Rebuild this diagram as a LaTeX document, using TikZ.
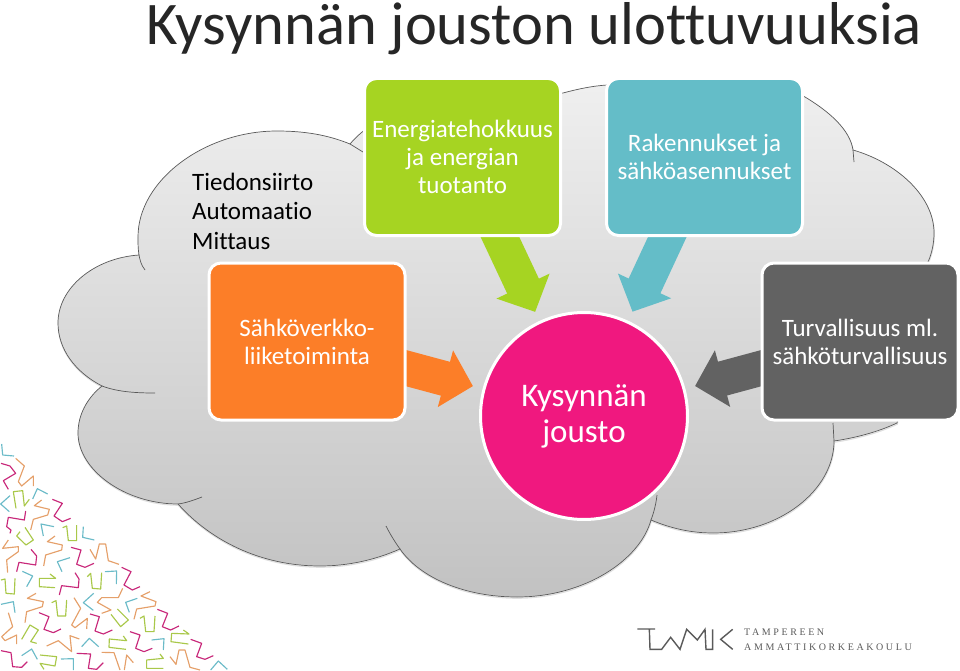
\documentclass[tikz,border=0pt]{standalone}
\usepackage{fontspec}
\setmainfont{Carlito}[Ligatures=NoCommon]
\newfontfamily\tamkfont[LetterSpace=26]{Liberation Serif}
\usetikzlibrary{arrows.meta}
\definecolor{energiagreen}{HTML}{A6D422}
\definecolor{rakennusblue}{HTML}{64BDC8}
\definecolor{liikeorange}{HTML}{FC7E28}
\definecolor{turvagrey}{HTML}{626262}
\definecolor{joustopink}{HTML}{F0187F}
\definecolor{stickblue}{HTML}{6BBBC8}
\definecolor{stickorange}{HTML}{E5A06A}
\definecolor{stickpink}{HTML}{C8287A}
\definecolor{stickgreen}{HTML}{A9C84A}
\definecolor{logogrey}{HTML}{5A5A5A}
\pgfdeclarelayer{back}
\pgfsetlayers{back,main}
\newcommand{\cloudoutline}{(102,386) .. controls (75,372) and (58,349) .. (58,323)
	.. controls (58,288) and (94,258) .. (139,255)
	.. controls (138,249) and (138,243) .. (138,237)
	.. controls (138,180) and (205,131) .. (277,131)
	.. controls (305,131) and (328,135) .. (350,144)
	.. controls (368,122) and (400,108) .. (440,104)
	.. controls (490,100) and (530,99) .. (563,93)
	.. controls (578,89) and (592,86) .. (607,85)
	.. controls (650,78) and (770,78) .. (805,97)
	.. controls (830,112) and (850,130) .. (853,150)
	.. controls (895,162) and (934,195) .. (934,233)
	.. controls (934,243) and (932,253) .. (928,262)
	-- (897,423)
	.. controls (878,432) and (855,438) .. (834,441)
	.. controls (834,490) and (780,533) .. (713,533)
	.. controls (690,533) and (670,528) .. (651,520)
	.. controls (640,560) and (585,597) .. (517,597)
	.. controls (465,597) and (420,578) .. (400,549)
	.. controls (375,560) and (348,566) .. (320,566)
	.. controls (260,566) and (210,540) .. (178,504)
	.. controls (125,504) and (78,470) .. (78,433)
	.. controls (78,415) and (87,398) .. (102,386) -- cycle}
\tikzset{
	kortti/.style={draw=white, line width=3pt, rounded corners=12pt, text=white, align=center,
		minimum width=196pt, minimum height=157pt, inner sep=0pt, font=\fontsize{25}{28}\selectfont},
	nuoli/.style={line width=35pt, -{Triangle[length=28.5pt,width=57pt]}, shorten >=10pt, shorten <=-14pt},
	tikku/.style={line width=1.15pt},
	reuna/.style={black!65, line width=0.7pt}
}
\begin{document}
\begin{tikzpicture}[x=1pt, y=-1pt, line join=round]
	\useasboundingbox (0,0) rectangle (960,671);
	% pilvi
	\begin{pgfonlayer}{back}
	\draw[gray, opacity=0.25, line width=1.2pt, shift={(0.3,1.2)}] \cloudoutline;
	\shade[top color=black!6, bottom color=black!24] \cloudoutline;
	\draw[reuna] \cloudoutline;
	\draw[reuna] (102,386) .. controls (118,392) and (136,393) .. (155,393);
	\draw[reuna] (145,270) .. controls (141,265) and (140,260) .. (139,255);
	\draw[reuna] (350,144) -- (363,152);
	\draw[reuna] (853,150) -- (854,162);
	\draw[reuna] (833,423) -- (834,441);
	\draw[reuna] (657,495) .. controls (656,504) and (654,512) .. (651,520);
	\draw[reuna] (386,526) .. controls (390,534) and (395,542) .. (400,549);
	\draw[reuna] (178,504) .. controls (186,503) and (194,500) .. (202,497);
	\end{pgfonlayer}
	% otsikko
	\node[anchor=base, inner sep=0pt, font=\fontsize{60.5}{64}\selectfont, text=black!85] (otsikko) at (534.5,45) {Kysynn\"an jouston ulottuvuuksia};
	\node[anchor=west, align=left, font=\fontsize{25}{29.5}\selectfont, inner sep=0pt] (mittaus) at (192,211) {Tiedonsiirto\\Automaatio\\Mittaus};
	% laatikot
	\node[kortti, fill=energiagreen] (energia) at (462.5,157) {Energiatehokkuus\\ja energian\\tuotanto};
	\node[kortti, fill=rakennusblue] (rakennus) at (704.5,157) {Rakennukset ja\\s\"ahk\"oasennukset};
	\node[kortti, fill=liikeorange] (liike) at (307,341.5) {S\"ahk\"overkko-\\liiketoiminta};
	\node[kortti, fill=turvagrey] (turva) at (860,341.5) {Turvallisuus ml.\\s\"ahk\"oturvallisuus};
	\node[circle, draw=white, line width=3pt, fill=joustopink, text=white, align=center, minimum size=207pt, inner sep=0pt,
		font=\fontsize{33}{36}\selectfont] (jousto) at (584,416) {Kysynn\"an\\jousto};
	% nuolet
	\begin{pgfonlayer}{back}
	\draw[nuoli, energiagreen] (energia) -- (jousto);
	\draw[nuoli, rakennusblue] (rakennus) -- (jousto);
	\draw[nuoli, liikeorange] (liike) -- (jousto);
	\draw[nuoli, turvagrey] (turva) -- (jousto);
	\end{pgfonlayer}
	% tikut
	\begin{scope}[shift={(0,430)}, x=0.33333pt, y=-0.33333pt]
	\begin{scope}[tikku, stickblue]
	\draw (5,42)--(8,75)--(42,78);
	\draw (98,207)--(112,176)--(143,192);
	\draw (30,197)--(2,222)--(28,245);
	\draw (130,318)--(123,282)--(162,290);
	\draw (250,290)--(248,322)--(283,330);
	\draw (210,383)--(172,395)--(186,425);
	\draw (67,424)--(98,438)--(80,470);
	\draw (315,425)--(350,423)--(349,462);
	\draw (3,523)--(40,515)--(45,548);
	\draw (281,490)--(250,518)--(280,541);
	\draw (412,505)--(377,517)--(388,547);
	\draw (245,650)--(268,625)--(296,650);
	\draw (455,630)--(492,626)--(490,660);
	\draw (65,677)--(95,657)--(112,688);
	\draw (183,687)--(220,686)--(220,720);
	\draw (632,720)--(655,693)--(682,718);
	\end{scope}
	\begin{scope}[tikku, stickorange]
	\draw (47,85)--(73,108)--(55,155)--(65,168)--(100,138)--(100,168);
	\draw (125,210)--(103,227)--(148,238)--(143,255)--(100,268)--(92,300);
	\draw (165,318)--(142,335)--(187,345)--(185,360)--(137,375)--(131,408);
	\draw (25,330)--(8,355)--(55,350)--(55,365)--(20,390)--(23,428);
	\draw (270,358)--(287,387)--(298,342)--(317,342)--(325,392)--(357,403);
	\draw (108,490)--(82,505)--(130,515)--(127,530)--(80,545)--(75,578);
	\draw (368,475)--(355,503)--(305,503)--(292,517)--(333,540)--(305,550);
	\draw (450,485)--(423,498)--(468,515)--(465,528)--(410,537)--(402,568);
	\draw (222,503)--(242,535)--(215,585)--(225,593)--(262,565)--(260,597);
	\draw (25,548)--(38,590)--(5,620)--(15,632)--(50,615)--(50,642);
	\draw (140,648)--(175,632)--(215,665)--(210,617)--(238,627);
	\draw (305,667)--(342,668)--(360,720) (373,720)--(380,675)--(400,698);
	\draw (510,680)--(528,703)--(537,660)--(555,660)--(570,712)--(600,720);
	\end{scope}
	\begin{scope}[tikku, stickpink]
	\draw (3,100)--(30,108)--(47,130)--(10,152)--(25,178);
	\draw (157,208)--(187,220)--(162,258)--(187,275)--(212,265);
	\draw (77,243)--(73,270)--(25,262)--(20,290)--(33,300)--(30,310);
	\draw (213,352)--(243,360)--(230,403)--(255,412)--(282,400);
	\draw (93,358)--(110,378)--(107,405)--(57,397)--(50,425);
	\draw (365,412)--(393,425)--(372,465)--(397,480)--(420,470);
	\draw (225,428)--(237,447)--(235,473)--(185,467)--(178,495);
	\draw (270,552)--(298,560)--(285,603)--(310,612)--(337,600);
	\draw (117,548)--(147,560)--(132,598)--(160,608)--(183,597);
	\draw (472,538)--(503,550)--(487,590)--(512,600)--(537,588);
	\draw (390,605)--(420,615)--(407,655)--(432,665)--(457,655);
	\draw (572,628)--(605,640)--(590,680)--(615,688)--(640,677);
	\draw (3,662)--(33,668)--(38,710)--(65,712)--(82,695);
	\draw (230,670)--(272,672)--(265,715)--(290,718)--(310,698);
	\end{scope}
	\begin{scope}[tikku, stickgreen]
	\draw (48,235)--(40,185)--(68,182)--(73,228)--(88,208);
	\draw (188,293)--(200,288)--(205,332)--(230,332)--(230,285);
	\draw (60,305)--(50,318)--(78,345)--(100,330)--(75,292);
	\draw (3,450)--(15,447)--(18,490)--(43,492)--(45,445);
	\draw (150,432)--(167,445)--(118,445)--(118,470)--(165,473);
	\draw (262,440)--(272,430)--(277,475)--(302,477)--(305,428);
	\draw (155,518)--(168,512)--(173,558)--(197,558)--(200,510);
	\draw (352,537)--(385,570)--(362,590)--(333,553);
	\draw (420,565)--(432,558)--(437,605)--(462,605)--(465,558);
	\draw (65,628)--(90,585)--(115,600)--(92,635)--(110,640);
	\draw (370,618)--(380,632)--(328,627)--(327,652)--(378,658);
	\draw (550,600)--(567,612)--(515,610)--(513,635)--(565,642);
	\draw (120,675)--(170,680)--(165,708)--(120,700)--(132,718);
	\draw (480,672)--(490,685)--(440,690)--(440,715)--(490,715);
	\end{scope}
	\end{scope}
	% logo
	\begin{scope}[shift={(620,610)}, x=0.33333pt, y=-0.33333pt, logogrey, line width=1.4pt, line join=miter]
	\draw (52,57)--(105,57) (88,57)--(90,118)--(125,118)--(152,82)--(180,118)--(200,58)--(232,90)--(255,58)--(258,118)--(278,118)--(278,58);
	\draw (338,58)--(302,88)--(338,118);
	\end{scope}
	\node[anchor=base west, inner sep=0pt, text=logogrey, font=\tamkfont\fontsize{10}{12}\selectfont] (tampereen) at (744,635.5) {TAMPEREEN};
	\node[anchor=base west, inner sep=0pt, text=logogrey, font=\tamkfont\fontsize{10}{12}\selectfont] (amk) at (744,650) {AMMATTIKORKEAKOULU};
\end{tikzpicture}
\end{document}
